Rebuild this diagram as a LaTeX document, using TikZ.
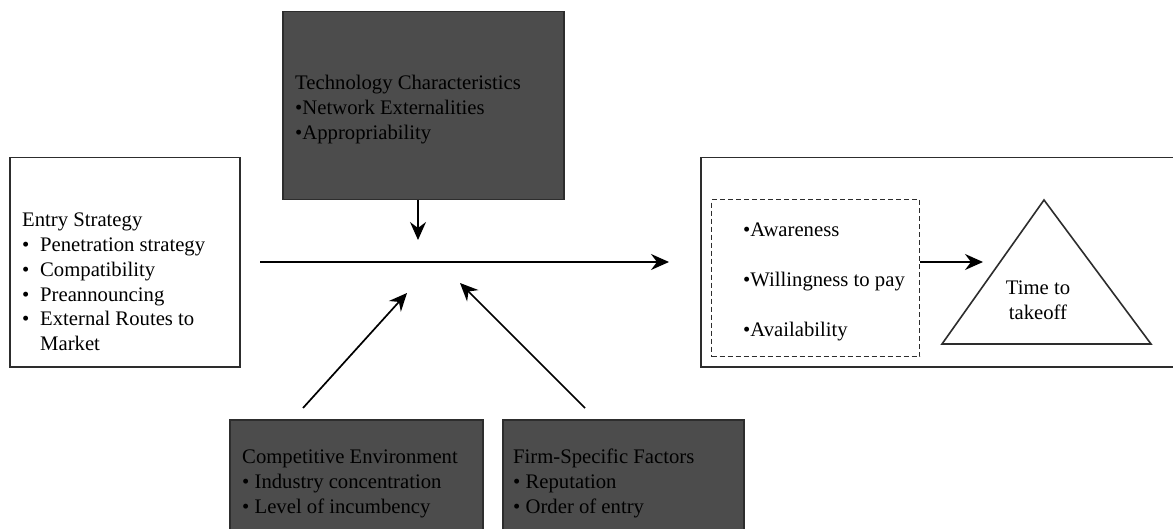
\documentclass[tikz,border=0pt]{standalone}
\usepackage{fontspec}
\setmainfont{Liberation Serif}
\usetikzlibrary{arrows.meta}
\definecolor{boxgray}{RGB}{76,76,76}
\definecolor{edgegray}{RGB}{45,45,45}
\begin{document}
\begin{tikzpicture}[x=1pt,y=-1pt,
  txt/.style={font=\fontsize{20.7}{25}\selectfont, inner sep=0pt, align=left, anchor=base west},
  widetxt/.style={txt, font=\fontsize{20.7}{50}\selectfont},
  whitebox/.style={draw=edgegray, line width=1.5pt, fill=white, inner sep=0pt, anchor=north west},
  darkbox/.style={draw=edgegray, line width=1.5pt, fill=boxgray, inner sep=0pt, anchor=north west},
  conn/.style={line width=1.7pt, -{Stealth[length=18pt,width=16pt,inset=6pt]}}]
\useasboundingbox (0,0) rectangle (1173,529);

% boxes
\node[whitebox, minimum width=230pt, minimum height=209pt] (entry) at (9,157) {};
\node[darkbox, minimum width=281pt, minimum height=188pt] (tech) at (282,11) {};
\node[darkbox, minimum width=253pt, minimum height=125pt] (comp) at (229,419) {};
\node[darkbox, minimum width=241pt, minimum height=125pt] (firm) at (502,419) {};
\node[whitebox, minimum width=490pt, minimum height=209pt] (outcome) at (700,157) {};
\node[draw=edgegray, line width=1.4pt, dash pattern=on 5pt off 3pt, inner sep=0pt, anchor=north west,
      minimum width=208pt, minimum height=157pt] (drivers) at (711,199) {};

% takeoff triangle
\coordinate (apex) at (1044,200);
\coordinate (baseR) at (1151,344);
\coordinate (baseL) at (942,344);
\draw[edgegray, line width=1.6pt] (apex) -- (baseR) -- (baseL) -- cycle;

% texts (each node is placed by the baseline of its last line)
\node[txt, font=\fontsize{20.7}{24.7}\selectfont] (entrytxt) at (22,350.5) {Entry Strategy\\
  \makebox[18pt][l]{•}Penetration strategy\\
  \makebox[18pt][l]{•}Compatibility\\
  \makebox[18pt][l]{•}Preannouncing\\
  \makebox[18pt][l]{•}External Routes to\\
  \hspace*{18pt}Market};
\node[txt] (techtxt) at (295,140) {Technology Characteristics\\•Network Externalities\\•Appropriability};
\node[txt] (comptxt) at (242,513) {Competitive Environment\\• Industry concentration\\• Level of incumbency};
\node[txt] (firmtxt) at (513,513) {Firm-Specific Factors\\• Reputation\\• Order of entry};
\node[widetxt] (drivtxt) at (743,337) {•Awareness\\•Willingness to pay\\•Availability};
\node[txt, align=center, anchor=base] (tttxt) at (1038,320) {Time to\\takeoff};

% connectors
\coordinate (mainL) at (260,262);
\coordinate (mainR) at (669,262);
\draw[conn] (mainL) -- (mainR);

\coordinate (techtip) at (418,240);
\draw[conn] (tech.south -| techtip) -- (techtip);

\coordinate (compfrom) at (303,408);
\coordinate (compto) at (407,293);
\draw[conn] (compfrom) -- (compto);

\coordinate (firmfrom) at (585,408);
\coordinate (firmto) at (460,283);
\draw[conn] (firmfrom) -- (firmto);

\coordinate (tritip) at (983,262);
\draw[conn] (drivers.east |- tritip) -- (tritip);
\end{tikzpicture}
\end{document}
